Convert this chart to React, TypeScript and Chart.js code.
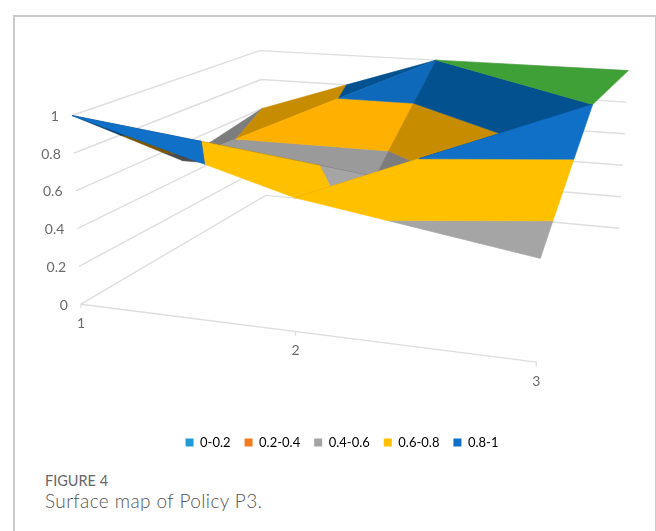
import React, { useEffect, useRef } from "react";
import { Chart, registerables } from "chart.js";

Chart.register(...registerables);

// Surface heights: one row per series (front to back), one value per category.
const categories = ["1", "2", "3"];
const seriesFront = [1, 0.67, 0.49];
const seriesMiddle = [0.5, 0.5, 1];
const seriesBack = [0.6, 1, 1];
const heightTicks = [0, 0.2, 0.4, 0.6, 0.8, 1];

// Colour bands of the surface; the last band has no legend entry.
const bandLabels = ["0-0.2", "0.2-0.4", "0.4-0.6", "0.6-0.8", "0.8-1", "1-1.2"];
const bandFloors = [0, 0.2, 0.4, 0.6, 0.8, 1];
const bandCeilings = [0.2, 0.4, 0.6, 0.8, 1, 1.2];
const litColours = ["#1F9BD7", "#F47B20", "#A5A5A5", "#FFC000", "#106FC6", "#3FA037"];
const softColours = ["#1C8FC7", "#E5701C", "#9A9A9A", "#FFB000", "#0F69BA", "#3FA037"];
const underColours = ["#136F9B", "#B85A14", "#7D7D7D", "#C88C00", "#03518F", "#2F7A2A"];
const deepColours = ["#0E5070", "#7A3C0C", "#4C4C4C", "#7A5600", "#0A3A62", "#1F5A1C"];

// Corners of the plot box on the picture plane: floor and the plane of height 1.
const floorCorners = [[81, 304], [537, 362], [620, 228], [266, 195]];
const topCorners = [[72, 115], [545, 150], [629, 70], [260, 50]];

type P3 = [number, number, number];

// Perspective weights of the corners, taken from the floor quadrilateral.
function cornerWeights(q: number[][]) {
  const [[x0, y0], [x1, y1], [x2, y2], [x3, y3]] = q;
  const sx = x0 - x1 + x2 - x3;
  const sy = y0 - y1 + y2 - y3;
  const dx1 = x1 - x2, dx2 = x3 - x2, dy1 = y1 - y2, dy2 = y3 - y2;
  const den = dx1 * dy2 - dx2 * dy1;
  const g = (sx * dy2 - dx2 * sy) / den;
  const h = (dx1 * sy - sx * dy1) / den;
  return [1, 1 + g, 1 + g + h, 1 + h];
}

const weights = cornerWeights(floorCorners);

function onPlane(q: number[][], u: number, v: number) {
  const blend = [(1 - u) * (1 - v), u * (1 - v), u * v, (1 - u) * v].map((b, i) => b * weights[i]);
  const total = blend[0] + blend[1] + blend[2] + blend[3];
  return [
    blend.reduce((s, b, i) => s + b * q[i][0], 0) / total,
    blend.reduce((s, b, i) => s + b * q[i][1], 0) / total,
  ];
}

function project([u, v, z]: P3) {
  const f = onPlane(floorCorners, u, v);
  const t = onPlane(topCorners, u, v);
  return { x: f[0] + (t[0] - f[0]) * z, y: f[1] + (t[1] - f[1]) * z };
}

const grid = [seriesFront, seriesMiddle, seriesBack];
const vertex = (col: number, row: number): P3 => [col / 2, row / 2, grid[row][col]];

// Cuts a polygon to the part on one side of a height level.
function clipAt(poly: P3[], level: number, keepAbove: boolean) {
  const inside = (p: P3) => (keepAbove ? p[2] >= level : p[2] <= level);
  const out: P3[] = [];
  poly.forEach((p, i) => {
    const q = poly[(i + 1) % poly.length];
    if (inside(p)) out.push(p);
    if (inside(p) !== inside(q)) {
      const t = (level - p[2]) / (q[2] - p[2]);
      out.push([p[0] + (q[0] - p[0]) * t, p[1] + (q[1] - p[1]) * t, level]);
    }
  });
  return out;
}

function polygonDataset(points: { x: number; y: number }[], colour: string) {
  return {
    data: [...points, points[0]],
    showLine: true,
    fill: "shape",
    backgroundColor: colour,
    borderColor: colour,
    borderWidth: 0.6,
    borderJoinStyle: "bevel",
    pointRadius: 0,
    tension: 0,
  };
}

function faceDatasets(tri: P3[], palette: string[]) {
  const zs = tri.map((p) => p[2]);
  const lo = Math.min(...zs);
  const hi = Math.max(...zs);
  const sets: any[] = [];
  bandLabels.forEach((_, i) => {
    // A level face belongs wholly to the band that starts at its height.
    const levelHere = lo === hi && lo === bandFloors[i];
    if (!levelHere && (hi <= bandFloors[i] || lo >= bandCeilings[i])) return;
    const piece = clipAt(clipAt(tri, bandFloors[i], true), bandCeilings[i], false);
    if (piece.length >= 3) sets.push(polygonDataset(piece.map(project), palette[i]));
  });
  return sets;
}

function lineDataset(points: P3[], width = 1.4) {
  return {
    data: points.map(project),
    showLine: true,
    fill: false,
    borderColor: "#DEDEDE",
    borderWidth: width,
    pointRadius: 0,
    tension: 0,
  };
}

// Painted from the far side of the box to the near side.
function buildDatasets() {
  const walls = heightTicks.map((z) =>
    lineDataset([[0, 0, z], [0, 1, z], [1, 1, z]] as P3[])
  );
  const floorEdge = lineDataset([[0, 0, 0], [1, 0, 0]] as P3[]);
  const ticks = categories.map((_, c) => {
    const u = c / 2;
    return lineDataset([[u, 0, 0], [u, 0, -0.022]] as P3[], 1.2);
  });

  const v = vertex;
  const faces = [
    ...faceDatasets([v(0, 1), v(1, 2), v(0, 2)], underColours),
    ...faceDatasets([v(0, 1), v(1, 1), v(1, 2)], softColours),
    ...faceDatasets([v(1, 1), v(2, 1), v(1, 2)], underColours),
    ...faceDatasets([v(1, 2), v(2, 2), v(2, 1)], litColours),
    ...faceDatasets([v(0, 0), v(1, 1), v(0, 1)], deepColours),
    ...faceDatasets([v(0, 0), v(1, 0), v(1, 1)], litColours),
    ...faceDatasets([v(1, 0), v(2, 1), v(1, 1)], underColours),
    ...faceDatasets([v(1, 0), v(2, 0), v(2, 1)], litColours),
  ];
  // Chart.js paints the first dataset last, so the list is reversed.
  return [...walls, floorEdge, ...ticks, ...faces].reverse();
}

// Axis numbers sit beside the projected box edges.
const axisLabelsPlugin = {
  id: "axisLabels",
  afterDraw(chart: any) {
    const { ctx, scales } = chart;
    ctx.save();
    ctx.font = "14px Lato, 'Open Sans', sans-serif";
    ctx.fillStyle = "#6A6A6A";
    ctx.textBaseline = "middle";
    ctx.textAlign = "right";
    heightTicks.forEach((z) => {
      const p = project([0, 0, z]);
      ctx.fillText(String(z), scales.x.getPixelForValue(p.x) - 13, scales.y.getPixelForValue(p.y) + 1);
    });
    ctx.textAlign = "center";
    categories.forEach((label, c) => {
      const p = project([c / 2, 0, 0]);
      ctx.fillText(label, scales.x.getPixelForValue(p.x), scales.y.getPixelForValue(p.y) + 19.5);
    });
    ctx.restore();
  },
};

export default function App() {
  const canvasRef = useRef<HTMLCanvasElement>(null);

  useEffect(() => {
    document.body.style.margin = "0";
    const chart = new Chart(canvasRef.current as HTMLCanvasElement, {
      type: "scatter",
      data: { datasets: buildDatasets() as any },
      options: {
        animation: false,
        responsive: false,
        layout: { padding: { left: 28 } },
        scales: {
          x: { type: "linear", display: false, min: 28, max: 656 },
          y: { type: "linear", display: false, reverse: true, min: 0, max: 415 },
        },
        plugins: {
          tooltip: { enabled: false },
          legend: {
            position: "bottom",
            labels: {
              boxWidth: 8,
              boxHeight: 8,
              padding: 14,
              color: "#6A6A6A",
              font: { size: 13, family: "Lato, 'Open Sans', sans-serif", lineHeight: "16px" },
              generateLabels: () =>
                bandLabels.slice(0, 5).map((text, i) => ({
                  text,
                  fillStyle: litColours[i],
                  strokeStyle: litColours[i],
                  lineWidth: 0,
                  hidden: false,
                  datasetIndex: i,
                })),
            },
          },
        },
      },
      plugins: [axisLabelsPlugin],
    } as any);
    // The legend takes its share of the canvas; the height scale then spans what is left in pixels.
    (chart.options.scales as any).y.max = chart.chartArea.bottom;
    chart.update();
    return () => chart.destroy();
  }, []);

  return (
    <div style={{ position: "relative", width: 656, height: 531, overflow: "hidden", background: "#fff" }}>
      <div
        style={{
          position: "absolute",
          left: 13,
          top: 15,
          width: 640,
          height: 520,
          border: "2px solid #CBCBCB",
          borderBottom: "none",
        }}
      />
      <canvas ref={canvasRef} width={656} height={459} style={{ position: "absolute", left: 0, top: 0 }} />
      <div
        style={{
          position: "absolute",
          left: 45,
          top: 473,
          font: "400 14.5px Lato, 'Open Sans', sans-serif",
          color: "#666",
          lineHeight: "16px",
        }}
      >
        FIGURE 4
      </div>
      <div
        style={{
          position: "absolute",
          left: 45,
          top: 490,
          font: "300 19px Lato, 'Open Sans', sans-serif",
          color: "#555",
          lineHeight: "22px",
          letterSpacing: 0.4,
        }}
      >
        Surface map of Policy P3.
      </div>
    </div>
  );
}
